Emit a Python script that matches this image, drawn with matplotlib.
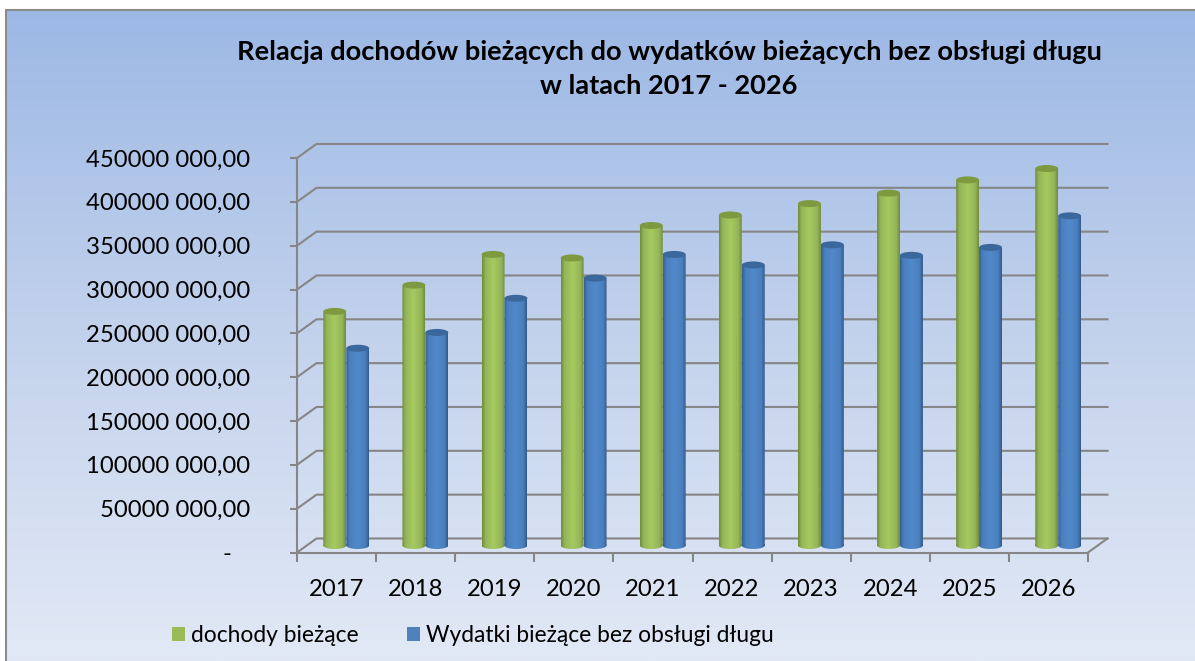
import numpy as np
import matplotlib
matplotlib.use("Agg")
import matplotlib.pyplot as plt
from matplotlib.colors import LinearSegmentedColormap
from matplotlib.patches import Ellipse, Patch, PathPatch, Rectangle
from matplotlib.path import Path

plt.rcParams["font.family"] = ["Lato", "DejaVu Sans"]

years = ["2017", "2018", "2019", "2020", "2021", "2022", "2023", "2024", "2025", "2026"]
dochody = [275, 305, 340, 336, 373, 385, 398, 410, 425, 438]  # mln
wydatki = [233, 251, 290, 313, 340, 328, 351, 339, 348, 384]  # mln
y_ticks = [0, 50, 100, 150, 200, 250, 300, 350, 400, 450]
y_labels = ["-   ", "50000 000,00", "100000 000,00", "150000 000,00", "200000 000,00",
            "250000 000,00", "300000 000,00", "350000 000,00", "400000 000,00", "450000 000,00"]
series_names = ["dochody bieżące", "Wydatki bieżące bez obsługi długu"]

W, H = 1195, 661
GRID = "#868686"
BAR_W = 0.29
DX, DY = 0.2465, 16.0   # glebokosc wykresu w jednostkach danych
TXT = 17.2

fig = plt.figure(figsize=(W / 100, H / 100), dpi=100, facecolor="white")

# tlo z gradientem
bg = fig.add_axes([0, 0, 1, 1], zorder=0)
bg_cmap = LinearSegmentedColormap.from_list("bg", ["#9cb8e5", "#c3d2ec", "#e2e9f6"])
bg.imshow(np.linspace(0, 1, 256).reshape(-1, 1), cmap=bg_cmap, aspect="auto", extent=[6.5, W, H, 9.5])
bg.plot([6.5, 6.5, W], [H, 9.5, 9.5], color="#8c8c8c", lw=1.5)
bg.set_xlim(0, W)
bg.set_ylim(H, 0)
bg.axis("off")

ax = fig.add_axes([297 / W, 1 - 552.5 / H, 791 / W, 394.5 / H], zorder=1)
ax.patch.set_alpha(0)
ax.set_xlim(0, 10)
ax.set_ylim(0, 450)
for s in ["top", "right"]:
    ax.spines[s].set_visible(False)
for s in ["left", "bottom"]:
    ax.spines[s].set_color(GRID)
    ax.spines[s].set_linewidth(1.5)

# tylna sciana i podloga
for v in y_ticks:
    ax.plot([0, DX, 10 + DX], [v, v + DY, v + DY], color=GRID, lw=1.5, clip_on=False, zorder=1)
ax.plot([10, 10 + DX], [0, DY], color=GRID, lw=1.5, clip_on=False, zorder=1)

ax.set_yticks(y_ticks)
ax.set_yticklabels(y_labels, fontsize=TXT)
ax.tick_params(axis="y", length=5, width=1.5, color=GRID, pad=29)
ax.set_xticks(range(11))
ax.set_xticklabels([])
ax.tick_params(axis="x", length=6.5, width=1.5, color=GRID)
ax.set_xticks(np.arange(10) + 0.5, minor=True)
ax.set_xticklabels(years, minor=True, fontsize=TXT)
ax.tick_params(axis="x", which="minor", length=0, pad=19)

green = LinearSegmentedColormap.from_list(
    "g", [(0, "#708c3a"), (0.15, "#94b558"), (0.5, "#a6ca60"), (0.85, "#94b558"), (1, "#708c3a")])
blue = LinearSegmentedColormap.from_list(
    "b", [(0, "#376092"), (0.15, "#4a7fbd"), (0.5, "#5289cb"), (0.85, "#4a7fbd"), (1, "#325a8a")])
grad = np.linspace(0, 1, 64).reshape(1, -1)
ell_h = 7 / 394.5 * 450


def cylinder(x0, top, cmap, top_color):
    base = DY / 2
    cx = x0 + BAR_W / 2
    rect = Rectangle((x0, base), BAR_W, top - base)
    ell = Ellipse((cx, base), BAR_W, ell_h)
    body = Path.make_compound_path(
        rect.get_path().transformed(rect.get_patch_transform()),
        ell.get_path().transformed(ell.get_patch_transform()),
    )
    im = ax.imshow(grad, cmap=cmap, aspect="auto", zorder=3,
                   extent=[x0, x0 + BAR_W, base - ell_h, top])
    clip = PathPatch(body, transform=ax.transData, fc="none", ec="none")
    ax.add_patch(clip)
    im.set_clip_path(clip)
    ax.add_patch(Ellipse((cx, top), BAR_W, ell_h, fc=top_color, ec="none", zorder=4))


for i in range(10):
    center = i + 0.5 + DX / 2
    cylinder(center - BAR_W, dochody[i], green, "#7d9a41")
    cylinder(center, wydatki[i], blue, "#3a679c")

ax.set_xlim(0, 10)
ax.set_ylim(0, 450)

fig.text(669 / W, 1 - 52 / H, "Relacja dochodów bieżących do wydatków bieżących bez obsługi długu",
         ha="center", va="center", fontsize=19.6, fontweight="bold", color="black")
fig.text(669 / W, 1 - 86 / H, "w latach 2017 - 2026",
         ha="center", va="center", fontsize=19.6, fontweight="bold", color="black")

handles = [Patch(facecolor="#9bbb59", lw=0), Patch(facecolor="#4f81bd", lw=0)]
fig.legend(handles, series_names, loc="center left", bbox_to_anchor=(172 / W, 1 - 636 / H), ncol=2,
           frameon=False, fontsize=16.4, handlelength=0.57, handleheight=0.57,
           handletextpad=0.27, columnspacing=2.12, borderpad=0, borderaxespad=0)

fig.savefig("out.png", dpi=100)
